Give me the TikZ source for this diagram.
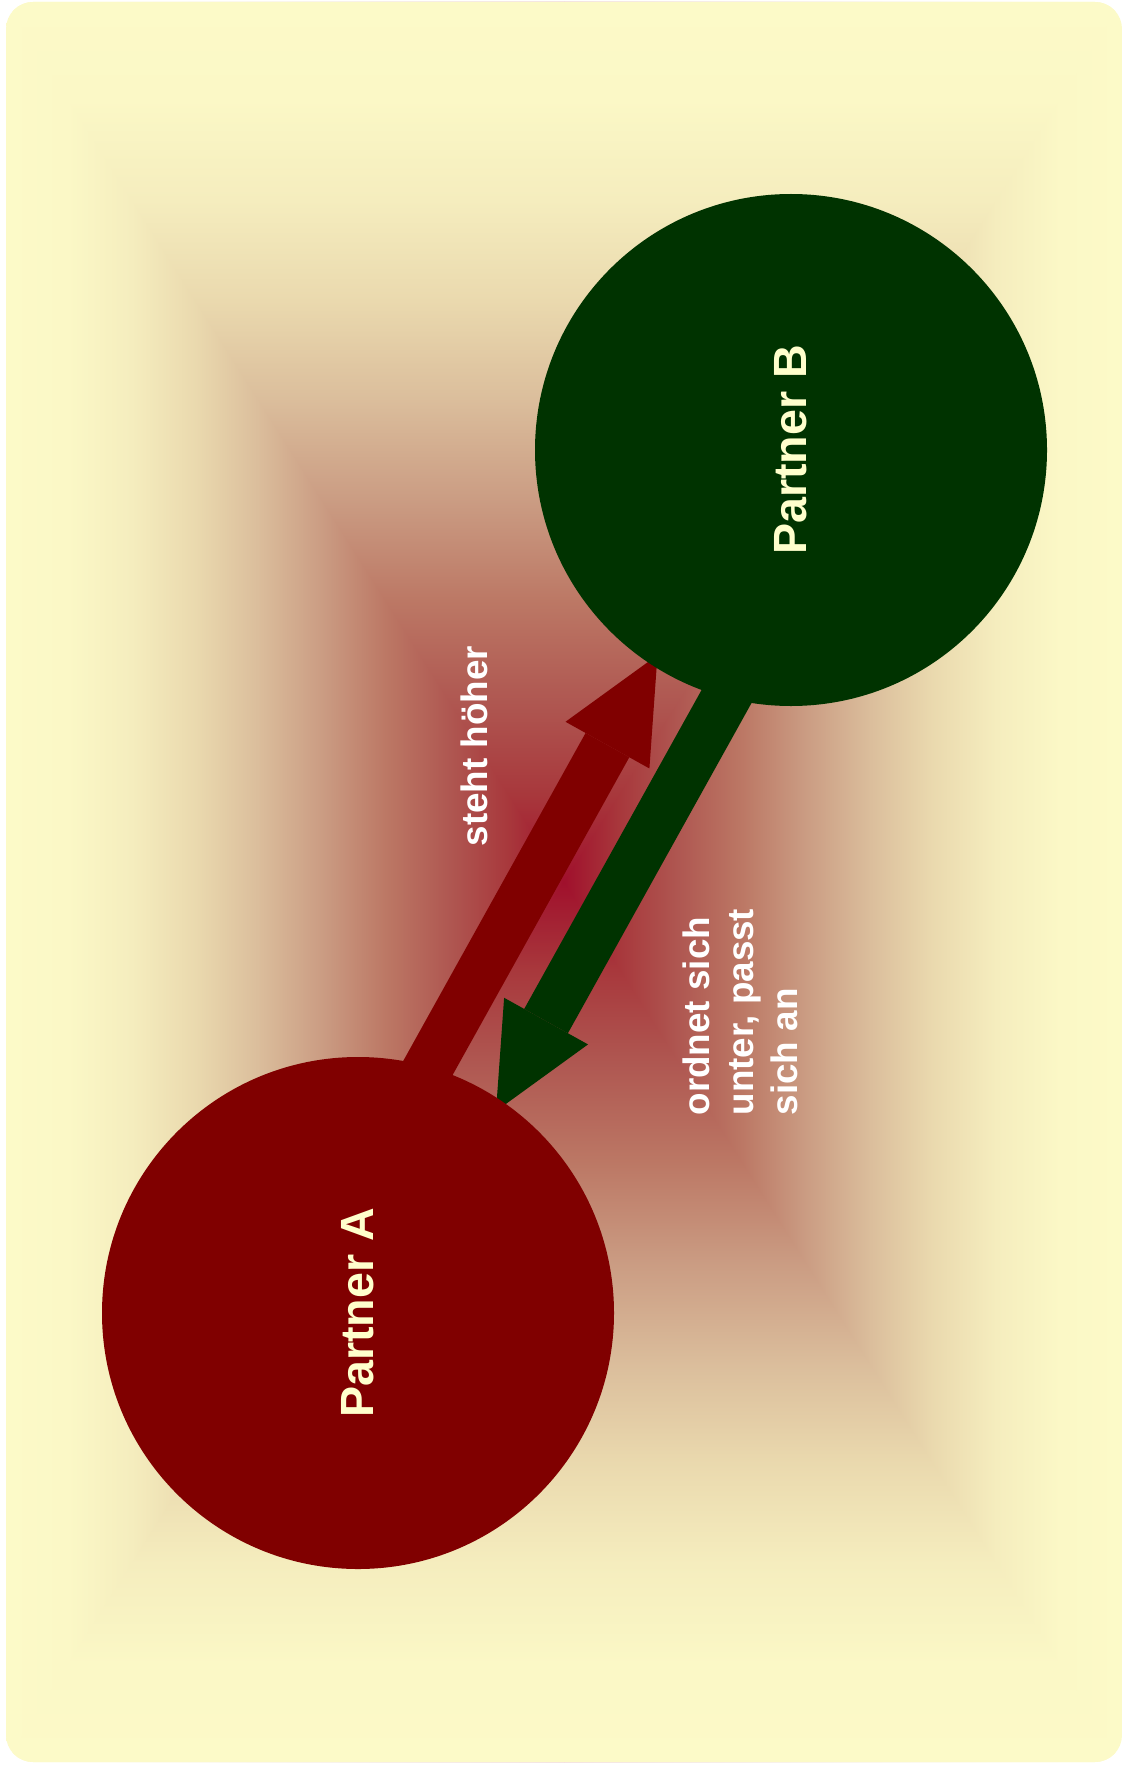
\documentclass[tikz,border=0pt]{standalone}
\usepackage{fontspec}
\setmainfont{Liberation Sans}
\usetikzlibrary{arrows.meta}

% colour ramp of the background, from the rim (g0) to the middle (g9)
\definecolor{g0}{HTML}{FCFAC8}
\definecolor{g1}{HTML}{FBF8C6}
\definecolor{g2}{HTML}{F5EDBE}
\definecolor{g3}{HTML}{EAD9AE}
\definecolor{g4}{HTML}{DBBE9C}
\definecolor{g5}{HTML}{CA9B82}
\definecolor{g6}{HTML}{BC7865}
\definecolor{g7}{HTML}{AF5751}
\definecolor{g8}{HTML}{A8383C}
\definecolor{g9}{HTML}{A0102C}
\definecolor{partnerred}{HTML}{800000}
\definecolor{partnergreen}{HTML}{003300}
\definecolor{cream}{HTML}{FFFFCC}

% rim at the top, middle at the bottom of the box
\pgfdeclareverticalshading{bgtop}{100bp}{color(0bp)=(g9); color(25bp)=(g9);
  color(30bp)=(g8); color(35.25bp)=(g7); color(41bp)=(g6); color(46.5bp)=(g5);
  color(52.5bp)=(g4); color(58bp)=(g3); color(63.75bp)=(g2); color(69.5bp)=(g1);
  color(75bp)=(g0); color(100bp)=(g0)}
% rim at the bottom, middle at the top
\pgfdeclareverticalshading{bgbot}{100bp}{color(0bp)=(g0); color(25bp)=(g0);
  color(30.5bp)=(g1); color(36.25bp)=(g2); color(42bp)=(g3); color(47.5bp)=(g4);
  color(53.5bp)=(g5); color(59bp)=(g6); color(64.75bp)=(g7); color(70bp)=(g8);
  color(75bp)=(g9); color(100bp)=(g9)}
% rim on the left, middle on the right
\pgfdeclarehorizontalshading{bgleft}{100bp}{color(0bp)=(g0); color(25bp)=(g0);
  color(30.5bp)=(g1); color(36.25bp)=(g2); color(42bp)=(g3); color(47.5bp)=(g4);
  color(53.5bp)=(g5); color(59bp)=(g6); color(64.75bp)=(g7); color(70bp)=(g8);
  color(75bp)=(g9); color(100bp)=(g9)}
% middle on the left, rim on the right
\pgfdeclarehorizontalshading{bgright}{100bp}{color(0bp)=(g9); color(25bp)=(g9);
  color(30bp)=(g8); color(35.25bp)=(g7); color(41bp)=(g6); color(46.5bp)=(g5);
  color(52.5bp)=(g4); color(58bp)=(g3); color(63.75bp)=(g2); color(69.5bp)=(g1);
  color(75bp)=(g0); color(100bp)=(g0)}

\pgfdeclarelayer{back}
\pgfsetlayers{back,main}

\begin{document}
\begin{tikzpicture}[x=0.5pt,y=-0.5pt,
  partner/.style={circle,inner sep=0pt,minimum size=256pt,rotate=90,text=cream,
    font=\bfseries\fontsize{23.3pt}{28pt}\selectfont},
  relation/.style={inner sep=0pt,rotate=90,text=white,
    font=\bfseries\fontsize{18.4pt}{22pt}\selectfont},
  bigarrow/.style={line width=25pt,
    -{Triangle[length=51.5pt,width=48pt,line width=0pt]}}]

\useasboundingbox (0,0) rectangle (1123,1765);

% the two partners
\node[partner,fill=partnerred] (A) at (358,1313) {Partner A};
\node[partner,fill=partnergreen] (B) at (791,450) {Partner B};

% relation labels
\node[relation,anchor=base] (higher) at (487,746) {steht höher};
\node[relation,align=left] (lower) at (740,1012) {ordnet sich\\unter, passt\\sich an};

% arrow ends, tucked under the circles
\coordinate (redtail) at (411.1,1098.2);
\coordinate (redtip) at (657.5,655.1);
\coordinate (greentail) at (739.0,674.1);
\coordinate (greentip) at (496.0,1111.1);

\begin{pgfonlayer}{back}
  \begin{scope}
    \clip[rounded corners=13.5pt] (6,2) rectangle (1122,1762);
    \shade[shading=bgleft] (6,2) rectangle (564,1762);
    \shade[shading=bgright] (564,2) rectangle (1122,1762);
    \shade[shading=bgtop] (6,2) -- (1122,2) -- (564,882) -- cycle;
    \shade[shading=bgbot] (6,1762) -- (1122,1762) -- (564,882) -- cycle;
  \end{scope}
  \draw[bigarrow,partnerred] (redtail) -- (redtip);
  \draw[bigarrow,partnergreen] (greentail) -- (greentip);
\end{pgfonlayer}
\end{tikzpicture}
\end{document}
